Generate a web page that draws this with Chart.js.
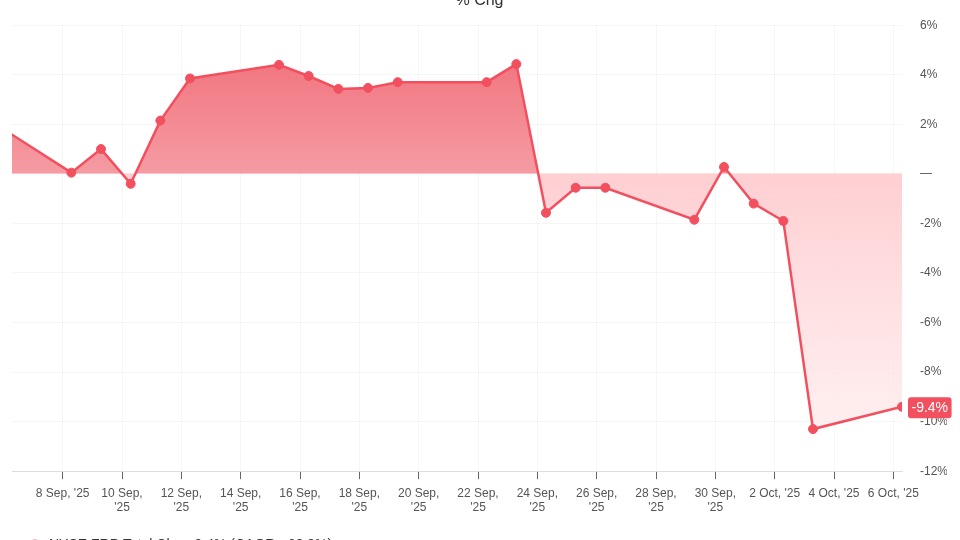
<!DOCTYPE html>
<html>
<head>
<meta charset="utf-8">
<script src="https://cdn.jsdelivr.net/npm/chart.js@4"></script>
<style>
  html, body { margin: 0; padding: 0; background: #fff; overflow: hidden; }
  #wrap { position: absolute; left: 0; top: -20px; width: 960px; height: 582px; }
</style>
</head>
<body>
<div id="wrap"><canvas id="chgChart"></canvas></div>
<script>
// trading day samples (UTC), % change from start
const dates = [
  '2025-09-05T07:00', '2025-09-08T07:00', '2025-09-09T07:00', '2025-09-10T07:00',
  '2025-09-11T07:00', '2025-09-12T07:00', '2025-09-15T07:00', '2025-09-16T07:00',
  '2025-09-17T07:00', '2025-09-18T07:00', '2025-09-19T07:00', '2025-09-22T07:00',
  '2025-09-23T07:00', '2025-09-24T07:00', '2025-09-25T07:00', '2025-09-26T07:00',
  '2025-09-29T07:00', '2025-09-30T07:00', '2025-10-01T07:00', '2025-10-02T07:00',
  '2025-10-03T07:00', '2025-10-06T07:00'
];
const values = [
  2.35, 0.05, 1.0, -0.4, 2.15, 3.85, 4.4, 3.95, 3.43, 3.47, 3.7,
  3.7, 4.43, -1.57, -0.56, -0.56, -1.85, 0.28, -1.2, -1.9, -10.3, -9.4
];
const tickDates = [
  '2025-09-08', '2025-09-10', '2025-09-12', '2025-09-14', '2025-09-16',
  '2025-09-18', '2025-09-20', '2025-09-22', '2025-09-24', '2025-09-26',
  '2025-09-28', '2025-09-30', '2025-10-02', '2025-10-04', '2025-10-06'
];
const seriesLabel = 'NYSE:FRP Total Chg: -9.4% (CAGR: -69.9%)';
const titleText = '% Chg';

const months = ['Jan','Feb','Mar','Apr','May','Jun','Jul','Aug','Sep','Oct','Nov','Dec'];
const lineColor = '#f2505f';
const fontFamily = '"Liberation Sans", Arial, sans-serif';

function toDay(s) {
  const iso = s.length > 10 ? s + 'Z' : s + 'T00:00Z';
  return Date.parse(iso) / 864e5;
}

function dayLabel(day) {
  const d = new Date(Math.round(day * 864e5));
  const txt = `${d.getUTCDate()} ${months[d.getUTCMonth()]}, '${String(d.getUTCFullYear()).slice(2)}`;
  // long labels wrap onto two lines
  if (txt.length > 10) {
    const i = txt.lastIndexOf(' ');
    return [txt.slice(0, i), txt.slice(i + 1)];
  }
  return txt;
}

const points = dates.map((d, i) => ({ x: toDay(d), y: values[i] }));
const lastDay = points[points.length - 1].x;

function areaFill(context) {
  const chart = context.chart;
  const area = chart.chartArea;
  if (!area || !chart.scales.y) return 'origin';
  const zero = chart.scales.y.getPixelForValue(0);
  const c = chart.ctx;
  const up = c.createLinearGradient(0, area.top, 0, zero);
  up.addColorStop(0, 'rgba(239, 98, 110, 0.95)');
  up.addColorStop(1, 'rgba(245, 150, 158, 0.95)');
  const down = c.createLinearGradient(0, zero, 0, area.bottom);
  down.addColorStop(0, 'rgba(255, 204, 207, 0.95)');
  down.addColorStop(1, 'rgba(255, 238, 239, 0.7)');
  return { target: 'origin', above: up, below: down };
}

const lastBadge = {
  id: 'lastBadge',
  afterDraw(chart) {
    const meta = chart.getDatasetMeta(0);
    const pt = meta.data[meta.data.length - 1];
    const v = values[values.length - 1];
    const text = v.toFixed(1) + '%';
    const ctx = chart.ctx;
    ctx.save();
    ctx.font = '14px ' + fontFamily;
    const w = ctx.measureText(text).width + 7;
    const h = 21;
    const x = chart.chartArea.right + 6;
    const y = pt.y - h / 2 + 1;
    ctx.fillStyle = lineColor;
    ctx.beginPath();
    ctx.roundRect(x, y, w, h, 3);
    ctx.fill();
    ctx.fillStyle = '#fff';
    ctx.textAlign = 'center';
    ctx.textBaseline = 'middle';
    ctx.fillText(text, x + w / 2, y + h / 2 + 0.5);
    ctx.restore();
  }
};

new Chart(document.getElementById('chgChart'), {
  type: 'line',
  data: {
    datasets: [{
      label: seriesLabel,
      data: points,
      borderColor: lineColor,
      backgroundColor: lineColor,
      borderWidth: 2.5,
      pointRadius: 4.5,
      pointBorderWidth: 1,
      pointBackgroundColor: lineColor,
      pointBorderColor: lineColor,
      tension: 0,
      fill: areaFill
    }]
  },
  plugins: [lastBadge],
  options: {
    responsive: true,
    maintainAspectRatio: false,
    animation: false,
    layout: { padding: { left: 12, right: 13, top: 0, bottom: 0 } },
    plugins: {
      title: {
        display: true,
        text: titleText,
        color: '#333',
        font: { family: fontFamily, size: 16, weight: 'normal' },
        padding: { top: 11, bottom: 15 }
      },
      legend: {
        position: 'bottom',
        align: 'start',
        labels: {
          usePointStyle: true,
          pointStyle: 'circle',
          pointStyleWidth: 14,
          boxWidth: 7,
          boxHeight: 7,
          padding: 16,
          color: '#333',
          font: { family: fontFamily, size: 14 }
        }
      },
      tooltip: { enabled: false }
    },
    scales: {
      x: {
        type: 'linear',
        min: lastDay - 30,
        max: lastDay,
        afterBuildTicks: scale => {
          scale.ticks = tickDates.map(d => ({ value: toDay(d) }));
        },
        grid: {
          color: 'rgba(0,0,0,0.035)',
          tickColor: '#666',
          tickLength: 8
        },
        border: { color: '#ddd' },
        ticks: {
          autoSkip: false,
          maxRotation: 0,
          padding: 7,
          color: '#555',
          font: { family: fontFamily, size: 12 },
          callback: v => dayLabel(v)
        }
      },
      y: {
        position: 'right',
        min: -12,
        max: 6,
        afterFit: scale => { scale.width = 45; },
        grid: { color: 'rgba(0,0,0,0.035)', drawTicks: false },
        border: { display: false },
        ticks: {
          stepSize: 2,
          padding: 18,
          color: '#555',
          font: { family: fontFamily, size: 12 },
          callback: v => v === 0 ? '—' : v + '%'
        }
      }
    }
  }
});
</script>
</body>
</html>
